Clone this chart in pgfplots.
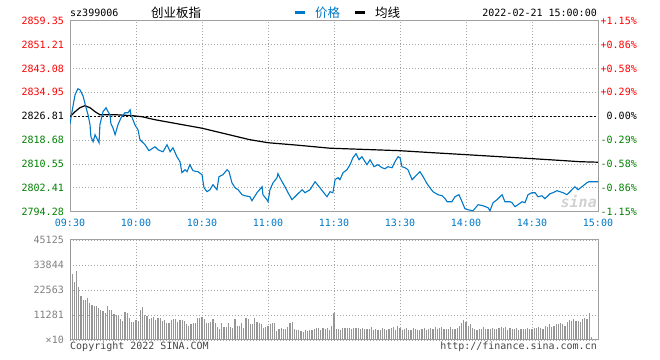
\documentclass[border=0pt]{standalone}
\usepackage{pgfplots}
\pgfplotsset{compat=1.18}
\usepackage{fontspec}
\setmainfont{DejaVu Sans Mono}
\newfontfamily\cjk{Noto Sans CJK SC}
\definecolor{pblue}{RGB}{0,120,200}
\definecolor{upred}{RGB}{255,0,0}
\definecolor{dngreen}{RGB}{0,128,0}
\definecolor{framec}{RGB}{160,160,160}
\definecolor{gridc}{RGB}{165,165,165}
\definecolor{volc}{RGB}{150,150,150}
\definecolor{labgray}{RGB}{128,128,128}
\definecolor{footc}{RGB}{70,70,70}
\newcommand{\tf}{\fontsize{10bp}{12bp}\selectfont}
\begin{document}
\begin{tikzpicture}
\useasboundingbox (0bp,0bp) rectangle (660bp,360bp);
\pgfplotsset{
  common/.style={
    scale only axis, width=528bp,
    xmin=0, xmax=240, xtick={0,30,...,240},
    major tick length=0pt,
    grid=major,
    major grid style={draw=gridc, line width=0.8bp, dash pattern=on 1bp off 2bp},
    axis line style={draw=framec, line width=1bp},
    tick label style={font=\tf, inner sep=0pt},
    scaled y ticks=false, scaled x ticks=false,
    clip=true,
  }
}
% ---------- price panel ----------
\begin{axis}[common,
  at={(70bp,148.3bp)}, anchor=south west, height=191bp,
  ymin=2794.28, ymax=2859.35,
  ytick={2794.28,2802.41,2810.55,2818.68,2826.81,2834.95,2843.08,2851.21,2859.35},
  yticklabels={\textcolor{dngreen}{2794.28},\textcolor{dngreen}{2802.41},\textcolor{dngreen}{2810.55},\textcolor{dngreen}{2818.68},\textcolor{black}{2826.81},\textcolor{upred}{2834.95},\textcolor{upred}{2843.08},\textcolor{upred}{2851.21},\textcolor{upred}{2859.35}},
  xticklabels={09:30,10:00,10:30,11:00,11:30,13:30,14:00,14:30,15:00},
  xticklabel style={text=pblue, anchor=north, yshift=-7.5bp},
  yticklabel style={anchor=east, xshift=-6bp},
]
\addplot[black, line width=0.9bp, dash pattern=on 2bp off 2bp] coordinates {(0,2826.81)(240,2826.81)};
% average line
\addplot[black, line width=1.2bp] coordinates {
(0,2826.64)(2.3,2828.34)(4.5,2829.71)(6.8,2830.39)(9.1,2829.71)(11.4,2828.34)(13.6,2827.32)
(20.5,2827.32)(28.6,2826.98)(32.7,2826.64)(38.6,2825.62)(60,2822.72)(81.8,2818.80)(90,2817.78)
(103.6,2816.93)(118.2,2815.91)(150,2815.06)(165,2814.37)(180.5,2813.69)(195.5,2813.01)
(210.5,2812.33)(225,2811.65)(231.8,2811.31)(240,2811.14)};
% price line
\addplot[pblue, line width=1.1bp] coordinates {
(0,2824.25)(0.9,2828.34)(2.3,2834.14)(3.6,2836.18)(4.5,2835.84)(5.9,2833.79)(7.3,2829.71)(8.2,2827.32)
(9.1,2823.91)(9.5,2819.83)(10.5,2818.12)(11.4,2820.51)(12.3,2819.14)(13.2,2817.78)(13.6,2823.91)
(15,2828.34)(16.4,2829.71)(17.3,2828.34)(18.2,2827.32)(18.6,2824.25)(19.5,2822.89)(20.5,2820.51)
(21.8,2823.91)(23.2,2826.30)(25,2828.00)(26.4,2828.00)(27.3,2829.02)(27.7,2827.32)(28.6,2825.62)
(29.5,2823.91)(30,2823.23)(30.9,2822.21)(31.8,2818.80)(34.1,2817.10)(35.9,2815.06)(37.3,2815.74)
(38.6,2816.42)(40,2815.40)(40.9,2815.06)(42.3,2814.72)(44.1,2817.10)(45.5,2814.72)(46.8,2816.08)
(48.6,2813.01)(50,2811.31)(50.9,2807.56)(52.3,2808.58)(53.2,2807.90)(54.5,2810.29)(55.9,2808.24)
(58.2,2807.90)(60,2806.88)(60.9,2802.45)(62.3,2801.09)(63.6,2801.77)(65,2803.47)(66.8,2801.77)
(67.7,2806.20)(69.5,2806.88)(71.4,2808.58)(72.3,2807.90)(73.6,2804.15)(75,2802.45)(76.4,2801.77)
(78.2,2800.07)(79.5,2799.72)(81.8,2799.38)(82.7,2798.02)(85,2800.75)(87.3,2802.79)(87.7,2800.07)
(89.5,2798.36)(90,2797.68)(90.9,2801.77)(92.3,2804.15)(94.1,2805.86)(94.5,2807.22)(95.9,2805.18)
(97.7,2802.79)(99.1,2800.75)(100.9,2798.36)(103.2,2800.07)(105.5,2801.77)(106.8,2800.75)
(109.1,2801.77)(111.4,2804.49)(113.6,2802.45)(115,2801.09)(116.8,2799.38)(118.2,2801.09)
(119.5,2800.75)(120.5,2805.18)(121.8,2805.86)(122.7,2805.18)(124.1,2807.56)(125.9,2808.58)
(127.3,2810.29)(128.6,2812.67)(130,2814.03)(131.4,2811.99)(132.7,2813.01)(134.1,2811.31)
(135,2810.29)(136.4,2811.99)(138.2,2809.60)(140,2810.29)(141.8,2809.26)(143.2,2808.92)
(144.5,2809.60)(146.4,2809.26)(147.7,2811.31)(149.1,2813.01)(150,2812.67)(150.9,2809.60)
(152.3,2809.26)(153.6,2808.58)(155.5,2805.18)(157.7,2806.88)(159.1,2807.90)(160.5,2806.20)
(162.3,2803.81)(163.6,2802.45)(165,2801.09)(167.3,2800.07)(169.1,2799.72)(170.5,2798.70)
(171.4,2797.68)(173.6,2797.68)(175,2799.38)(176.8,2800.07)(178.2,2797.68)(179.5,2795.30)
(180.9,2794.95)(183.2,2794.61)(185.5,2796.66)(187.7,2796.32)(190,2795.64)(190.9,2794.61)
(192.3,2797.34)(194.1,2798.36)(196.4,2800.07)(197.7,2797.68)(200,2797.68)(200.9,2797.34)
(202.3,2795.98)(203.6,2796.66)(205.5,2797.68)(206.8,2797.34)(208.2,2800.07)(210,2800.75)
(211.4,2800.75)(212.7,2799.38)(214.5,2799.72)(215.9,2798.70)(218.2,2800.41)(219.5,2800.75)
(221.4,2801.43)(222.7,2801.09)(224.1,2800.75)(225.9,2800.07)(227.3,2801.09)(229.5,2802.79)
(230.9,2801.77)(232.7,2802.79)(235,2804.15)(235.9,2804.49)(237.7,2804.49)(240,2804.49)};
\end{axis}
% right-hand percentage labels
\begin{axis}[
  at={(70bp,148.3bp)}, anchor=south west, scale only axis, width=528bp, height=191bp,
  xmin=0, xmax=240, ymin=2794.28, ymax=2859.35,
  axis x line=none, axis y line*=right, y axis line style={draw=none},
  major tick length=0pt,
  ytick={2794.28,2802.41,2810.55,2818.68,2826.81,2834.95,2843.08,2851.21,2859.35},
  yticklabels={\textcolor{dngreen}{-1.15\%},\textcolor{dngreen}{-0.86\%},\textcolor{dngreen}{-0.58\%},\textcolor{dngreen}{-0.29\%},\textcolor{black}{0.00\%},\textcolor{upred}{+0.29\%},\textcolor{upred}{+0.58\%},\textcolor{upred}{+0.86\%},\textcolor{upred}{+1.15\%}},
  yticklabel style={font=\tf, inner sep=0pt, anchor=east, xshift=39bp},
]
\addplot[draw=none] coordinates {(0,2826.81)};
\end{axis}
% ---------- volume panel ----------
\begin{axis}[common,
  at={(70bp,20bp)}, anchor=south west, height=100bp,
  ymin=0, ymax=45125,
  ytick={0,11281,22563,33844,45125},
  yticklabels={×10,11281,22563,33844,45125},
  xticklabels={},
  yticklabel style={anchor=east, xshift=-6bp, text=labgray},
]
\addplot[ycomb, draw=volc, line width=1.1bp] coordinates {
(0,45125)(1,30000)(2,26300)(3,31300)(4,24000)(5,20000)(6,18000)(7,18000)(8,19000)(9,16500)
(10,16000)(11,15500)(12,15500)(13,14500)(14,13500)(15,13000)(16,12000)(17,15500)(18,13500)(19,13500)
(20,11800)(21,11500)(22,11000)(23,9500)(24,8500)(25,12500)(26,12000)(27,10000)(28,8000)(29,8000)
(30,9000)(31,8500)(32,13500)(33,15000)(34,11500)(35,11000)(36,9500)(37,10000)(38,10500)(39,9000)
(40,10000)(41,10000)(42,8500)(43,9000)(44,7800)(45,7800)(46,9000)(47,9500)(48,9500)(49,8000)
(50,9000)(51,9000)(52,8500)(53,7000)(54,6500)(55,7000)(56,7500)(57,7800)(58,10000)(59,10000)
(60,10500)(61,9500)(62,7500)(63,7500)(64,8000)(65,9500)(66,7500)(67,6000)(68,5000)(69,7500)
(70,6000)(71,6000)(72,7500)(73,6000)(74,5500)(75,9500)(76,6500)(77,6500)(78,7500)(79,5500)
(80,10000)(81,9500)(82,7000)(83,7000)(84,10000)(85,8000)(86,7500)(87,7000)(88,5500)(89,6000)
(90,6500)(91,7000)(92,7500)(93,7500)(94,4000)(95,5000)(96,5500)(97,5000)(98,5000)(99,6000)
(100,7500)(101,8000)(102,5000)(103,4500)(104,4500)(105,4000)(106,3500)(107,4500)(108,4000)(109,4500)
(110,4500)(111,5000)(112,5500)(113,5500)(114,4500)(115,5500)(116,5000)(117,5500)(118,4500)(119,6500)
(120,12300)(121,5000)(122,4800)(123,4500)(124,5500)(125,5300)(126,5300)(127,5300)(128,5000)(129,5300)
(130,5300)(131,5300)(132,5000)(133,5300)(134,5000)(135,4800)(136,5000)(137,6000)(138,4500)(139,4800)
(140,4500)(141,4500)(142,5500)(143,4800)(144,4500)(145,4800)(146,5500)(147,6000)(148,4500)(149,6500)
(150,5500)(151,4500)(152,4800)(153,5500)(154,4500)(155,4300)(156,5500)(157,5000)(158,4500)(159,4500)
(160,4800)(161,5200)(162,4500)(163,4800)(164,5500)(165,5000)(166,5800)(167,5000)(168,5500)(169,5800)
(170,5000)(171,4800)(172,5000)(173,6000)(174,5000)(175,5000)(176,5500)(177,6500)(178,7500)(179,9000)
(180,8000)(181,6500)(182,7000)(183,5500)(184,5000)(185,4500)(186,5000)(187,5000)(188,6000)(189,5000)
(190,5000)(191,5000)(192,5500)(193,5000)(194,5000)(195,5500)(196,6000)(197,5500)(198,6000)(199,4500)
(200,5500)(201,4800)(202,5000)(203,5500)(204,4500)(205,4800)(206,5000)(207,5000)(208,5500)(209,5000)
(210,5000)(211,5500)(212,5500)(213,6000)(214,5500)(215,5000)(216,6500)(217,6000)(218,7000)(219,6000)
(220,6500)(221,7000)(222,7000)(223,7500)(224,7000)(225,6500)(226,8000)(227,9000)(228,8500)(229,9500)
(230,8500)(231,8500)(232,8000)(233,9500)(234,10000)(235,9500)(236,12300)(237,1200)};
\end{axis}
% ---------- header / footer text ----------
\node[anchor=base west, inner sep=0pt, font=\tf] at (70bp,343bp) {sz399006};
\node[anchor=base west, inner sep=0pt, font=\cjk\fontsize{12.5bp}{14bp}\selectfont] at (151bp,342bp) {创业板指};
\draw[pblue, line width=3bp] (295bp,347.3bp) -- (305bp,347.3bp);
\node[anchor=base west, inner sep=0pt, text=pblue, font=\cjk\fontsize{12.5bp}{14bp}\selectfont] at (315bp,342bp) {价格};
\draw[black, line width=3bp] (355bp,347.3bp) -- (365bp,347.3bp);
\node[anchor=base west, inner sep=0pt, font=\cjk\fontsize{12.5bp}{14bp}\selectfont] at (375bp,342bp) {均线};
\node[anchor=base east, inner sep=0pt, font=\tf] at (597bp,343bp) {2022-02-21 15:00:00};
\node[anchor=base west, inner sep=0pt, text=footc, font=\tf] at (70bp,11bp) {Copyright 2022 SINA.COM};
\node[anchor=base east, inner sep=0pt, text=footc, font=\tf] at (597bp,11bp) {http://finance.sina.com.cn};
\node[anchor=base east, inner sep=0pt, text=black!18, font=\bfseries\itshape\fontsize{15bp}{15bp}\selectfont] at (597bp,152bp) {sina};
\end{tikzpicture}
\end{document}
